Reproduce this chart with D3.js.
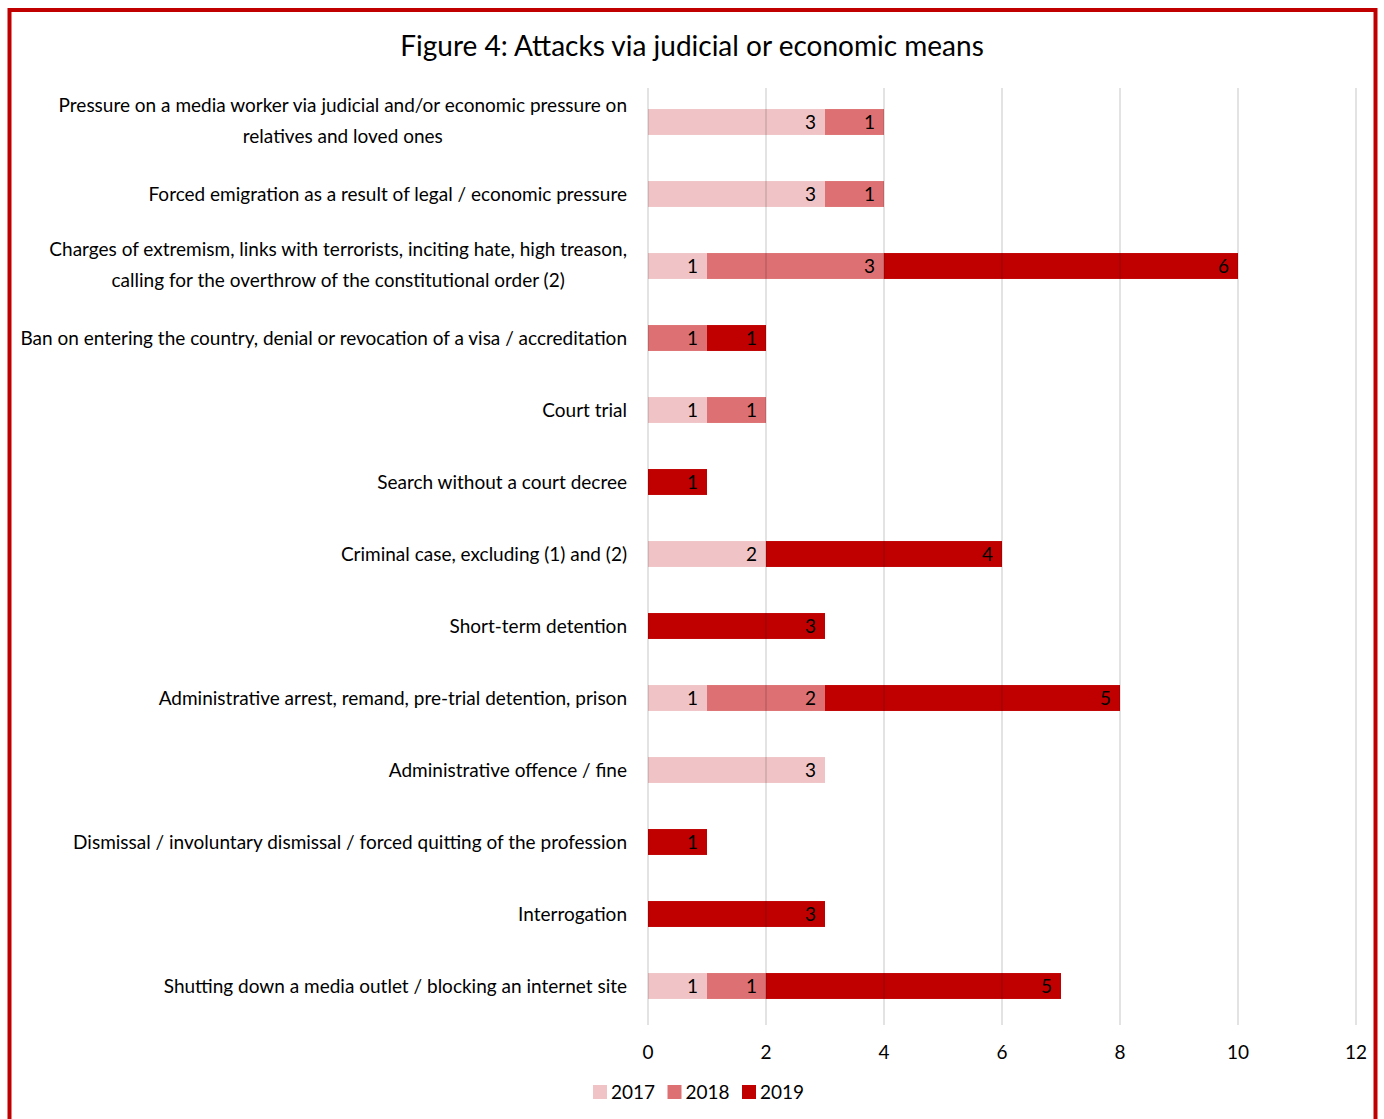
<!DOCTYPE html>
<html>
<head>
<meta charset="utf-8">
<script src="https://cdn.jsdelivr.net/npm/d3@7/dist/d3.min.js"></script>
<style>
  html, body { margin: 0; padding: 0; background: #fff; }
  svg { display: block; }
  text { font-family: Lato, "Open Sans", sans-serif; fill: #000; }
</style>
</head>
<body>
<svg id="chart" width="1384" height="1119"></svg>
<script>
// Categories (top to bottom), each given as its display lines
const categories = [
  ["Pressure on a media worker via judicial and/or economic pressure on", "relatives and loved ones"],
  ["Forced emigration as a result of legal / economic pressure"],
  ["Charges of extremism, links with terrorists, inciting hate, high treason,", "calling for the overthrow of the constitutional order (2)"],
  ["Ban on entering the country, denial or revocation of a visa / accreditation"],
  ["Court trial"],
  ["Search without a court decree"],
  ["Criminal case, excluding (1) and (2)"],
  ["Short-term detention"],
  ["Administrative arrest, remand, pre-trial detention, prison"],
  ["Administrative offence / fine"],
  ["Dismissal / involuntary dismissal / forced quitting of the profession"],
  ["Interrogation"],
  ["Shutting down a media outlet / blocking an internet site"]
];

const years = ["2017", "2018", "2019"];
const values2017 = [3, 3, 1, 0, 1, 0, 2, 0, 1, 3, 0, 0, 1];
const values2018 = [1, 1, 3, 1, 1, 0, 0, 0, 2, 0, 0, 0, 1];
const values2019 = [0, 0, 6, 1, 0, 1, 4, 3, 5, 0, 1, 3, 5];
const xTicks = [0, 2, 4, 6, 8, 10, 12];
const colors = ["#f0c4c6", "#dd7072", "#c00000"];
const title = "Figure 4: Attacks via judicial or economic means";

const svg = d3.select("#chart");

// frame
svg.append("rect")
  .attr("x", 9.5).attr("y", 10).attr("width", 1366).attr("height", 1130)
  .attr("fill", "none").attr("stroke", "#c00000").attr("stroke-width", 4);

svg.append("text")
  .attr("x", 692).attr("y", 56)
  .attr("text-anchor", "middle")
  .style("font-size", "28px")
  .text(title);

const x = d3.scaleLinear().domain([0, 12]).range([648, 1356]);
const y = d3.scaleBand().domain(d3.range(categories.length)).range([86, 1022]).paddingInner(0.64).paddingOuter(0.32);

const rows = categories.map((c, i) => ({ i, vals: [values2017[i], values2018[i], values2019[i]] }));
const stacked = d3.stack().keys([0, 1, 2]).value((d, k) => d.vals[k])(rows);

// bars
const layers = svg.append("g").selectAll("g").data(stacked).join("g")
  .attr("fill", (d, k) => colors[k]);
layers.selectAll("rect").data(d => d.filter(s => s[1] > s[0])).join("rect")
  .attr("x", s => x(s[0]))
  .attr("width", s => x(s[1]) - x(s[0]))
  .attr("y", s => y(s.data.i))
  .attr("height", y.bandwidth());

// gridlines drawn over the bars, faint
svg.append("g").selectAll("line").data(xTicks).join("line")
  .attr("x1", d => x(d)).attr("x2", d => x(d))
  .attr("y1", 88).attr("y2", 1025)
  .attr("stroke", "#000").attr("stroke-opacity", 0.15).attr("stroke-width", 1.5);

// value labels at inside end
layers.selectAll("text").data(d => d.filter(s => s[1] > s[0])).join("text")
  .attr("x", s => x(s[1]) - 9)
  .attr("y", s => y(s.data.i) + y.bandwidth() / 2)
  .attr("dy", "0.36em")
  .attr("text-anchor", "end")
  .style("font-size", "19px")
  .text(s => s[1] - s[0]);

// category labels
const labelRight = 627;
const lab = svg.append("g").selectAll("g").data(categories).join("g")
  .attr("transform", (d, i) => `translate(0,${y(i) + y.bandwidth() / 2})`);
lab.each(function (lines) {
  const g = d3.select(this);
  const lh = 31;
  const t = g.selectAll("text").data(lines).join("text")
    .style("font-size", "19px")
    .attr("dy", "0.36em")
    .attr("y", (l, j) => (j - (lines.length - 1) / 2) * lh - (lines.length - 1) * 1)
    .text(l => l);
  const widths = t.nodes().map(n => n.getComputedTextLength());
  const maxW = d3.max(widths);
  const cx = labelRight - maxW / 2;
  t.attr("x", cx).attr("text-anchor", "middle");
});

// x axis tick labels
svg.append("g").selectAll("text").data(xTicks).join("text")
  .attr("x", d => x(d)).attr("y", 1052).attr("dy", "0.36em")
  .attr("text-anchor", "middle")
  .style("font-size", "19px")
  .text(d => d);

// legend
const legend = svg.append("g").selectAll("g").data(years).join("g")
  .attr("transform", (d, k) => `translate(${593 + k * 74.5},1092)`);
legend.append("rect").attr("x", 0).attr("y", -7).attr("width", 14).attr("height", 14)
  .attr("fill", (d, k) => colors[k]);
legend.append("text").attr("x", 18).attr("dy", "0.36em")
  .style("font-size", "19px").text(d => d);
</script>
</body>
</html>
